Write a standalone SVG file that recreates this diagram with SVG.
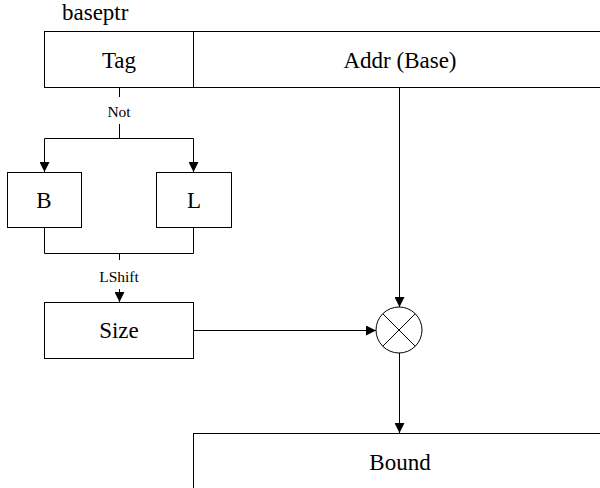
<svg xmlns="http://www.w3.org/2000/svg" width="600" height="488" viewBox="0 0 600 488">
<defs>
<style>
.box{fill:#fff;stroke:#000;stroke-width:1}
.ln{fill:none;stroke:#000;stroke-width:1}
.t{font-family:"Liberation Serif","Times New Roman",serif;font-size:23px;text-anchor:middle;dominant-baseline:central;fill:#000}
.s{font-family:"Liberation Serif","Times New Roman",serif;font-size:15.5px;text-anchor:middle;dominant-baseline:central;fill:#000}
</style>
<marker id="ah" markerWidth="10" markerHeight="10" refX="10" refY="5" orient="auto" markerUnits="userSpaceOnUse">
<path d="M0,0 L10,5 L0,10 Z" fill="#000"/>
</marker>
</defs>
<rect width="600" height="488" fill="#fff"/>
<text x="62" y="20" font-family="Liberation Serif, Times New Roman, serif" font-size="23" fill="#000">baseptr</text>
<g id="baseptr">
<rect id="tag" class="box" x="44.5" y="31.5" width="149" height="56"/>
<text class="t" x="119" y="60">Tag</text>
<rect id="addr" class="box" x="193.5" y="31.5" width="420" height="56"/>
<text class="t" x="400" y="60">Addr (Base)</text>
</g>
<g id="B"><rect class="box" x="7.5" y="172.5" width="74" height="55"/><text class="t" x="44" y="200">B</text></g>
<g id="L"><rect class="box" x="156.5" y="172.5" width="75" height="55"/><text class="t" x="194" y="200">L</text></g>
<g id="Size"><rect class="box" x="44.5" y="302.5" width="149" height="56"/><text class="t" x="119" y="330">Size</text></g>
<g id="mul"><circle class="ln" cx="399" cy="330" r="23"/><path class="ln" d="M382.7,313.7 L415.3,346.3 M415.3,313.7 L382.7,346.3"/></g>
<g id="Bound"><rect class="box" x="193.5" y="433.5" width="420" height="60"/><text class="t" x="400" y="462">Bound</text></g>
<g id="connectors">
<path class="ln" d="M119.5,87 V97"/>
<text class="s" x="119" y="111">Not</text>
<path class="ln" d="M119.5,124 V138.5 M44.5,138.5 H193.5"/>
<path class="ln" d="M44.5,138.5 V172" marker-end="url(#ah)"/>
<path class="ln" d="M193.5,138.5 V172" marker-end="url(#ah)"/>
<path class="ln" d="M44.5,227 V253.5 H193.5 V227 M119.5,253.5 V260"/>
<text class="s" x="119" y="276">LShift</text>
<path class="ln" d="M119.5,289 V302" marker-end="url(#ah)"/>
<path class="ln" d="M193,330.5 H376" marker-end="url(#ah)"/>
<path class="ln" d="M399.5,87 V307" marker-end="url(#ah)"/>
<path class="ln" d="M399.5,353 V433" marker-end="url(#ah)"/>
</g>
</svg>
